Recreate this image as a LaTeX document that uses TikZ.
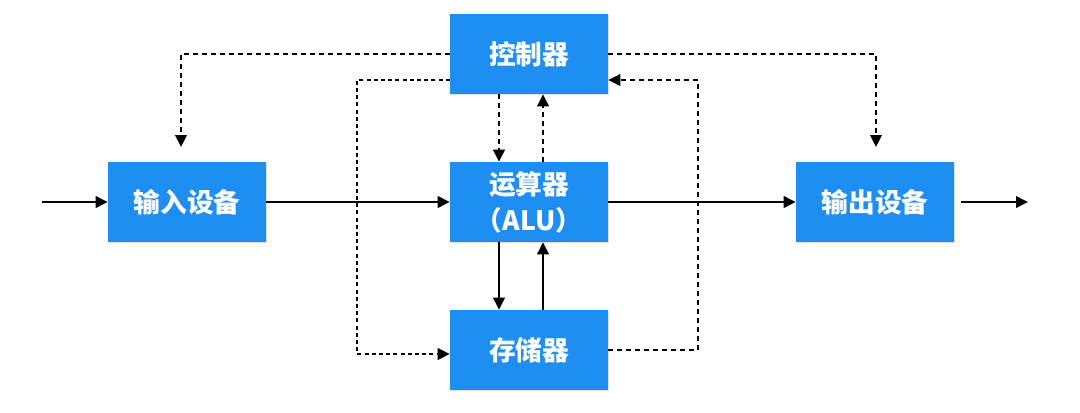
\documentclass[tikz,border=0pt]{standalone}
\usepackage{fontspec}
\newfontfamily\cjk{Noto Sans CJK SC}
\usetikzlibrary{arrows.meta,calc,shadows}
\definecolor{boxblue}{HTML}{1F8EF3}
\tikzset{
  blk/.style={fill=boxblue, draw=none, minimum width=118.5pt, minimum height=60pt,
    text=white, font=\cjk\bfseries\fontsize{20pt}{27pt}\selectfont, align=center,
    drop shadow={opacity=0.25, shadow xshift=0.4pt, shadow yshift=-1pt}},
  conn/.style={line width=1.9pt, -{Triangle[length=9pt,width=8.5pt]}},
  dsh/.style={conn, dash pattern=on 3.75pt off 3pt},
  dot/.style={conn, dash pattern=on 3pt off 2.4pt},
}
\begin{document}
\begin{tikzpicture}[x=0.75pt,y=-0.75pt]
\useasboundingbox (0,0) rectangle (1080,412);
\node[blk] (ctrl) at (529,54) {控制器};
\node[blk] (alu) at (529,202) {运算器\\（ALU）};
\node[blk] (mem) at (529,350) {存储器};
\node[blk] (in) at (187,202) {输入设备};
\node[blk] (out) at (875,202) {输出设备};
\coordinate (src) at (42,202);
\coordinate (dst) at (1028,202);
\coordinate (lx) at (357,0);
\coordinate (rx) at (698,0);
% main data flow
\draw[conn] (src) -- (in.west);
\draw[conn] (in.east) -- (alu.west);
\draw[conn] (alu.east) -- (out.west);
\draw[conn, shorten <=5pt] (out.east) -- (dst);
% alu <-> memory
\draw[conn] ($(alu.south)+(-30,0)$) -- ($(mem.north)+(-30,0)$);
\draw[conn] ($(mem.north)+(14,0)$) -- ($(alu.south)+(14,0)$);
% controller <-> alu
\draw[dsh] ($(ctrl.south)+(-30,0)$) -- ($(alu.north)+(-30,0)$);
\draw[dsh] ($(alu.north)+(14,0)$) -- ($(ctrl.south)+(14,0)$);
% controller -> I/O
\draw[dsh, shorten >=11pt] (ctrl.west) -| ($(in.north)+(-6,0)$);
\draw[dsh, shorten >=11pt] (ctrl.east) -| ($(out.north)+(1,0)$);
% controller -> memory (left loop), memory -> controller (right loop)
\draw[dot] ($(ctrl.west)+(0,26)$) -| ($(lx)+(0,354)$) -- ($(mem.west)+(0,4)$);
\draw[dsh] (mem.east) -| ($(rx)+(0,80)$) -- ($(ctrl.east)+(0,26)$);
\end{tikzpicture}
\end{document}
